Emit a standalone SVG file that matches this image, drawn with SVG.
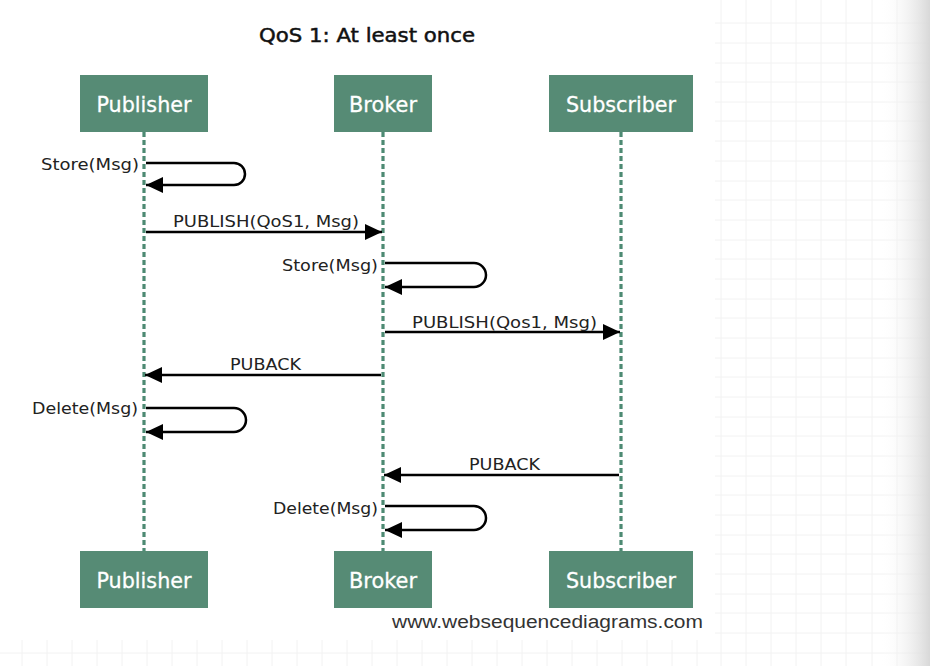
<svg xmlns="http://www.w3.org/2000/svg" width="930" height="666" viewBox="0 0 930 666">
<defs>
<style>
.box{fill:#568b75}
.bt{font-family:"DejaVu Sans",Verdana,sans-serif;font-size:21px;fill:#ffffff;text-anchor:middle;stroke:#ffffff;stroke-width:0.3}
.life{stroke:#4d8a73;stroke-width:3.2;stroke-dasharray:5 3;fill:none}
.msg{stroke:#000;stroke-width:2.5;fill:none;marker-end:url(#ah)}
.lbl{font-family:"DejaVu Sans",Verdana,sans-serif;font-size:15px;fill:#222}
.grid{stroke:#f2f2f2;stroke-width:1}
</style>
<marker id="ah" markerUnits="userSpaceOnUse" markerWidth="18" markerHeight="18" viewBox="0 0 18 18" refX="17" refY="9" orient="auto">
<path d="M0,1 L17,9 L0,17 z" fill="#000"/>
</marker>
<linearGradient id="edge" x1="0" y1="0" x2="1" y2="0">
<stop offset="0" stop-color="#ffffff" stop-opacity="0"/>
<stop offset="1" stop-color="#d8d8d8"/>
</linearGradient>
</defs>
<rect width="930" height="666" fill="#ffffff"/>
<g id="grid">
<path class="grid" d="M721,0V666M746,0V666M771,0V666M796,0V666M821,0V666M846,0V666M872,0V666M897,0V666"/>
<path class="grid" d="M715,23H930M715,43H930M715,63H930M715,82H930M715,102H930M715,121H930M715,141H930M715,161H930M715,181H930M715,200H930M715,220H930M715,240H930M715,259H930M715,279H930M715,299H930M715,318H930M715,338H930M715,358H930M715,377H930M715,397H930M715,417H930M715,436H930M715,456H930M715,476H930M715,495H930M715,515H930M715,535H930M715,554H930M715,574H930M715,594H930M715,613H930M715,633H930M0,653H930"/>
<path class="grid" d="M22,640V666M47,640V666M72,640V666M97,640V666M122,640V666M147,640V666M172,640V666M197,640V666M222,640V666M247,640V666M272,640V666M297,640V666M322,640V666M347,640V666M372,640V666M397,640V666M422,640V666M447,640V666M472,640V666M497,640V666M522,640V666M547,640V666M572,640V666M597,640V666M622,640V666M647,640V666M672,640V666M697,640V666"/>
<rect x="880" y="0" width="50" height="666" fill="url(#edge)"/>
</g>
<text id="title" x="367" y="42" font-family="DejaVu Sans, Verdana, sans-serif" font-size="20" fill="#111" stroke="#111" stroke-width="0.5" text-anchor="middle" textLength="216" lengthAdjust="spacingAndGlyphs">QoS 1: At least once</text>
<g id="lifelines">
<line class="life" x1="144" y1="132" x2="144" y2="551"/>
<line class="life" x1="383" y1="132" x2="383" y2="551"/>
<line class="life" x1="621" y1="132" x2="621" y2="551"/>
</g>
<g id="publisher-top"><rect class="box" x="80" y="75" width="128" height="57"/><text class="bt" x="144" y="112" textLength="95" lengthAdjust="spacingAndGlyphs">Publisher</text></g>
<g id="broker-top"><rect class="box" x="334" y="75" width="98" height="57"/><text class="bt" x="383" y="112" textLength="68" lengthAdjust="spacingAndGlyphs">Broker</text></g>
<g id="subscriber-top"><rect class="box" x="549" y="75" width="144" height="57"/><text class="bt" x="621" y="112" textLength="110" lengthAdjust="spacingAndGlyphs">Subscriber</text></g>
<g id="publisher-bottom"><rect class="box" x="80" y="551" width="128" height="57"/><text class="bt" x="144" y="588" textLength="95" lengthAdjust="spacingAndGlyphs">Publisher</text></g>
<g id="broker-bottom"><rect class="box" x="334" y="551" width="98" height="57"/><text class="bt" x="383" y="588" textLength="68" lengthAdjust="spacingAndGlyphs">Broker</text></g>
<g id="subscriber-bottom"><rect class="box" x="549" y="551" width="144" height="57"/><text class="bt" x="621" y="588" textLength="110" lengthAdjust="spacingAndGlyphs">Subscriber</text></g>
<g id="connectors">
<path class="msg" d="M146,163 H234 A11,11 0 0 1 234,185 H146"/>
<path class="msg" d="M146,232 H382"/>
<path class="msg" d="M385,263 H474 A12,12 0 0 1 474,287 H385"/>
<path class="msg" d="M385,332 H620"/>
<path class="msg" d="M381,375 H145"/>
<path class="msg" d="M146,408 H234 A12,12 0 0 1 234,432 H146"/>
<path class="msg" d="M619,475 H384"/>
<path class="msg" d="M385,506 H474 A12,12 0 0 1 474,530 H385"/>
</g>
<g id="labels">
<text class="lbl" x="139" y="170" text-anchor="end" textLength="98" lengthAdjust="spacingAndGlyphs">Store(Msg)</text>
<text class="lbl" x="173" y="227" textLength="186" lengthAdjust="spacingAndGlyphs">PUBLISH(QoS1, Msg)</text>
<text class="lbl" x="378" y="271" text-anchor="end" textLength="96" lengthAdjust="spacingAndGlyphs">Store(Msg)</text>
<text class="lbl" x="412" y="328" textLength="185" lengthAdjust="spacingAndGlyphs">PUBLISH(Qos1, Msg)</text>
<text class="lbl" x="230" y="370" textLength="71" lengthAdjust="spacingAndGlyphs">PUBACK</text>
<text class="lbl" x="138" y="414" text-anchor="end" textLength="106" lengthAdjust="spacingAndGlyphs">Delete(Msg)</text>
<text class="lbl" x="469" y="470" textLength="71" lengthAdjust="spacingAndGlyphs">PUBACK</text>
<text class="lbl" x="378" y="514" text-anchor="end" textLength="105" lengthAdjust="spacingAndGlyphs">Delete(Msg)</text>
</g>
<text id="watermark" x="392" y="628" font-family="Liberation Sans, Arial, sans-serif" font-size="18" fill="#333" textLength="311" lengthAdjust="spacingAndGlyphs">www.websequencediagrams.com</text>
</svg>
